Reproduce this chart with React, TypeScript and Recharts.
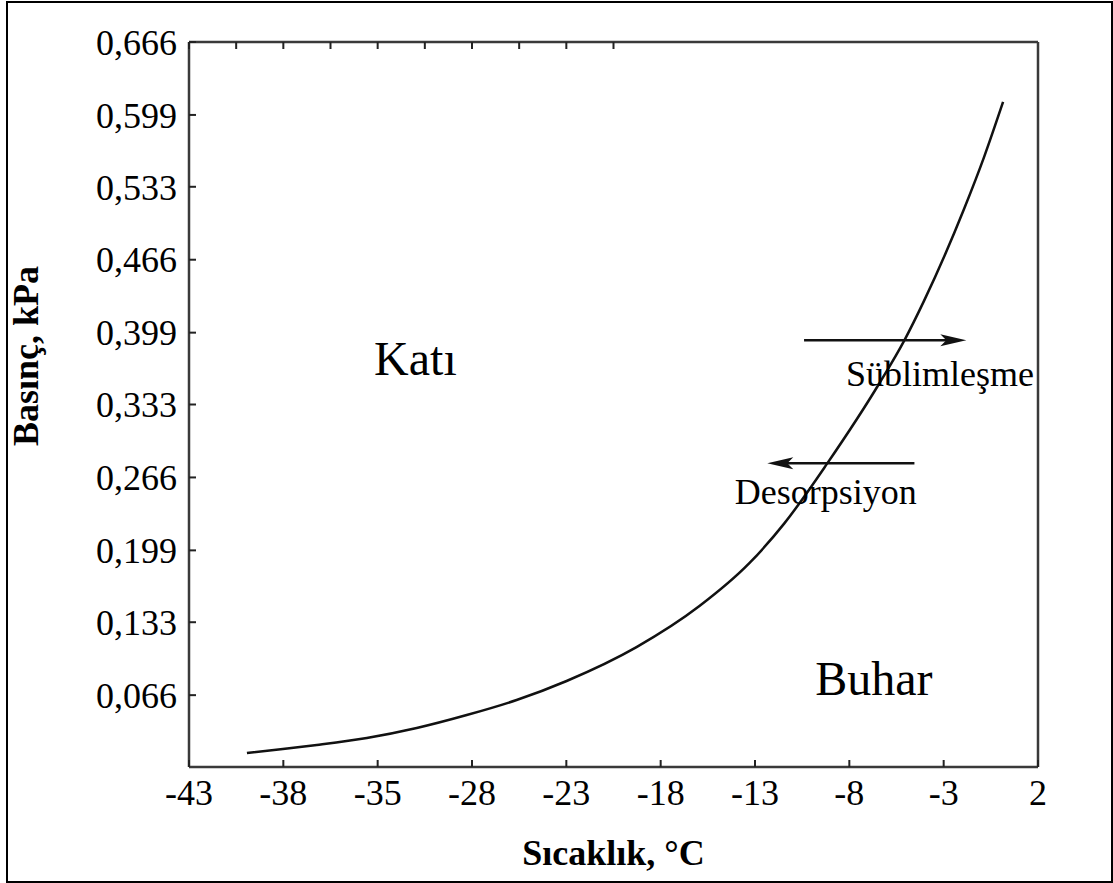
import { LineChart, Line, XAxis, YAxis, ReferenceLine, ReferenceDot, Label } from 'recharts';

// x positions are evenly spaced tick slots (0..9); the labels are what the original printed
const xTickLabels = ['-43', '-38', '-35', '-28', '-23', '-18', '-13', '-8', '-3', '2'];
const xTicks = [0, 1, 2, 3, 4, 5, 6, 7, 8, 9];
const yTicks = [0.066, 0.133, 0.199, 0.266, 0.333, 0.399, 0.466, 0.533, 0.599, 0.666];

// sublimation curve
const curveX = [0.614, 0.995, 1.355, 1.885, 2.414, 2.944, 3.473, 4.003, 4.744, 5.411, 5.94, 6.311, 6.766, 7.317, 7.582, 7.793, 8.217, 8.429, 8.63];
const curveP = [0.0128, 0.0165, 0.0202, 0.0266, 0.0358, 0.0477, 0.0615, 0.079, 0.1101, 0.1478, 0.1872, 0.2238, 0.2789, 0.3523, 0.3917, 0.4284, 0.5128, 0.5605, 0.611];

const regionLabels = [
    { text: 'Katı', x: 2.4, y: 0.376, size: 48 },
    { text: 'Buhar', x: 7.26, y: 0.0816, size: 48 },
    { text: 'Süblimleşme', x: 7.96, y: 0.362, size: 36 },
    { text: 'Desorpsiyon', x: 6.75, y: 0.253, size: 36 },
];

const arrows = [
    { from: 6.52, to: 8.24, y: 0.392 },
    { from: 7.69, to: 6.13, y: 0.279 },
];

const data = curveX.map((x, i) => ({ x, p: curveP[i] }));

const FONT = 'Liberation Serif, Times New Roman, serif';
const AXIS = '#3a3a3a';
const TICK_LEN = 7;
const GAP = 12;

// tick label plus an inward tick mark
const BottomTick = ({ x, y, payload }: any) => (
    <g>
        <line x1={x} x2={x} y1={y - GAP} y2={y - GAP - TICK_LEN} stroke="#222" strokeWidth={2} />
        <text x={x} y={y} dy="0.71em" textAnchor="middle" fontSize={36} fontFamily={FONT} fill="#000">
            {xTickLabels[payload.value]}
        </text>
    </g>
);

const LeftTick = ({ x, y, payload }: any) => (
    <g>
        <line x1={x + GAP} x2={x + GAP + TICK_LEN} y1={y} y2={y} stroke="#222" strokeWidth={2} />
        <text x={x} y={y} dy="0.355em" textAnchor="end" fontSize={36} fontFamily={FONT} fill="#000">
            {payload.value.toFixed(3).replace('.', ',')}
        </text>
    </g>
);

const TopTick = ({ x, y }: any) => (
    <line x1={x} x2={x} y1={y} y2={y + TICK_LEN} stroke="#222" strokeWidth={2} />
);

const RightTick = ({ x, y }: any) => (
    <line x1={x} x2={x - TICK_LEN} y1={y} y2={y} stroke="#222" strokeWidth={2} />
);

const Arrow = (props: any) => {
    const { x1, y1, x2, y2 } = props;
    const dir = x2 > x1 ? 1 : -1;
    const len = 26;
    const hw = 6;
    return (
        <g>
            <line x1={x1} y1={y1} x2={x2 - dir * 10} y2={y2} stroke="#111" strokeWidth={2.5} />
            <polygon
                points={`${x2},${y2} ${x2 - dir * len},${y2 - hw} ${x2 - dir * (len - 6)},${y2} ${x2 - dir * len},${y2 + hw}`}
                fill="#111"
            />
        </g>
    );
};

const App = () => {
    return (
        <div style={{ position: 'absolute', left: 0, top: 0, width: 1113, height: 883, background: '#fff' }}>
            <div
                style={{
                    position: 'absolute',
                    left: 6,
                    top: 1,
                    width: 1107,
                    height: 882,
                    border: '2px solid #000',
                    boxSizing: 'border-box',
                }}
            />
            <div style={{ position: 'absolute', left: 0, top: 0 }}>
                <LineChart width={1113} height={883} data={data} margin={{ top: 41, right: 74, bottom: 0, left: 0 }}>
                    <XAxis
                        dataKey="x"
                        type="number"
                        domain={[0, 9]}
                        ticks={xTicks}
                        interval={0}
                        height={116}
                        tickSize={0}
                        tickMargin={GAP}
                        tickLine={false}
                        axisLine={{ stroke: AXIS, strokeWidth: 2.5 }}
                        tick={BottomTick}
                    >
                        <Label
                            value="Sıcaklık, °C"
                            position="insideBottom"
                            offset={18}
                            style={{ fontSize: 36, fontWeight: 'bold', fontFamily: FONT, fill: '#000' }}
                        />
                    </XAxis>
                    <XAxis
                        xAxisId="top"
                        orientation="top"
                        type="number"
                        domain={[0, 9]}
                        ticks={xTicks}
                        interval={0}
                        height={1}
                        tickSize={0}
                        tickMargin={0}
                        tickLine={false}
                        axisLine={{ stroke: AXIS, strokeWidth: 2.5 }}
                        tick={TopTick}
                    />
                    <YAxis
                        type="number"
                        domain={[0, 0.666]}
                        ticks={yTicks}
                        interval={0}
                        width={189}
                        tickSize={0}
                        tickMargin={GAP}
                        tickLine={false}
                        axisLine={{ stroke: AXIS, strokeWidth: 2.5 }}
                        tick={LeftTick}
                    >
                        <Label
                            content={() => (
                                <text
                                    x={38}
                                    y={356}
                                    transform="rotate(-90, 38, 356)"
                                    textAnchor="middle"
                                    style={{ fontSize: 36, fontWeight: 'bold', fontFamily: FONT, fill: '#000' }}
                                >
                                    Basınç,  kPa
                                </text>
                            )}
                        />
                    </YAxis>
                    <YAxis
                        yAxisId="right"
                        orientation="right"
                        type="number"
                        domain={[0, 0.666]}
                        ticks={yTicks}
                        interval={0}
                        width={1}
                        tickSize={0}
                        tickMargin={0}
                        tickLine={false}
                        axisLine={{ stroke: AXIS, strokeWidth: 2.5 }}
                        tick={RightTick}
                    />
                    <Line
                        type="monotone"
                        dataKey="p"
                        stroke="#111"
                        strokeWidth={2.5}
                        dot={false}
                        isAnimationActive={false}
                    />
                    {arrows.map((a, i) => (
                        <ReferenceLine
                            key={`arrow-${i}`}
                            segment={[{ x: a.from, y: a.y }, { x: a.to, y: a.y }]}
                            shape={Arrow}
                        />
                    ))}
                    {regionLabels.map((l) => (
                        <ReferenceDot
                            key={l.text}
                            x={l.x}
                            y={l.y}
                            r={0}
                            fill="none"
                            stroke="none"
                            label={{
                                value: l.text,
                                position: 'center',
                                fill: '#000',
                                fontSize: l.size,
                                fontFamily: FONT,
                            }}
                        />
                    ))}
                </LineChart>
            </div>
        </div>
    );
};

export default App;
